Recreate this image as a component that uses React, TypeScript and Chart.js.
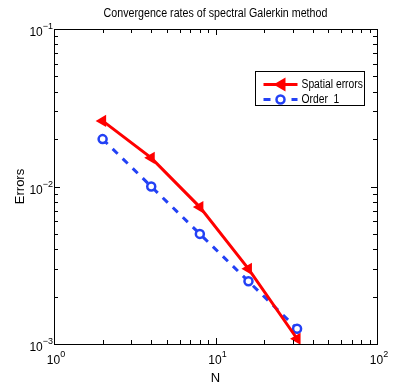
import React, { useEffect, useRef } from "react";
import { Chart, registerables } from "chart.js";

Chart.register(...registerables);

const N = [2, 4, 8, 16, 32];
const spatialErrors = [0.0261, 0.0152, 0.0074, 0.003, 0.00108];
const order1 = [0.02, 0.01, 0.005, 0.0025, 0.00125];
const seriesNames = ["Spatial errors", "Order  1"];
const xTickValues = [1, 10, 100];
const yTickValues = [0.001, 0.01, 0.1];
const titleText = "Convergence rates of spectral Galerkin method";
const xLabel = "N";
const yLabel = "Errors";

const RED = "rgb(255,0,0)";
const BLUE = "rgb(35,65,245)";
const FONT = "'Liberation Sans', Arial, sans-serif";

function narrowText(ctx: CanvasRenderingContext2D, text: string, x: number, y: number, sx: number, align: "left" | "center") {
  ctx.save();
  ctx.translate(x, y);
  ctx.scale(sx, 1);
  ctx.textAlign = align;
  ctx.textBaseline = "middle";
  ctx.fillText(text, 0, 0);
  ctx.restore();
}

function drawPow(ctx: CanvasRenderingContext2D, exp: string, x: number, y: number, align: "center" | "right") {
  ctx.font = `12px ${FONT}`;
  const baseW = ctx.measureText("10").width;
  ctx.font = `9px ${FONT}`;
  const expW = ctx.measureText(exp).width;
  const total = baseW + expW;
  const left = align === "center" ? x - total / 2 : x - total;
  ctx.textAlign = "left";
  ctx.textBaseline = "middle";
  ctx.font = `12px ${FONT}`;
  ctx.fillText("10", left, y);
  ctx.font = `9px ${FONT}`;
  ctx.fillText(exp, left + baseW, y - 6);
}

const decorPlugin = {
  id: "decor",
  afterDraw(chart: any) {
    const ctx = chart.ctx as CanvasRenderingContext2D;
    const ca = chart.chartArea;
    const xs = chart.scales.x;
    const ys = chart.scales.y;
    ctx.save();
    ctx.strokeStyle = "#000";
    ctx.lineWidth = 1;
    ctx.strokeRect(Math.round(ca.left) + 0.5, Math.round(ca.top) + 0.5, Math.round(ca.right - ca.left), Math.round(ca.bottom - ca.top));
    const tickSet = (min: number, max: number) => {
      const out: { v: number; major: boolean }[] = [];
      for (let d = Math.round(Math.log10(min)); d < Math.round(Math.log10(max)); d++) {
        for (let k = 1; k < 10; k++) out.push({ v: k * Math.pow(10, d), major: k === 1 });
      }
      out.push({ v: max, major: true });
      return out;
    };
    ctx.beginPath();
    for (const t of tickSet(xs.min, xs.max)) {
      const px = Math.round(xs.getPixelForValue(t.v)) + 0.5;
      const len = t.major ? 6 : 4;
      ctx.moveTo(px, ca.bottom);
      ctx.lineTo(px, ca.bottom - len);
      ctx.moveTo(px, ca.top);
      ctx.lineTo(px, ca.top + len);
    }
    for (const t of tickSet(ys.min, ys.max)) {
      const py = Math.round(ys.getPixelForValue(t.v)) + 0.5;
      const len = t.major ? 6 : 4;
      ctx.moveTo(ca.left, py);
      ctx.lineTo(ca.left + len, py);
      ctx.moveTo(ca.right, py);
      ctx.lineTo(ca.right - len, py);
    }
    ctx.stroke();

    ctx.fillStyle = "#000";
    for (const v of xTickValues) {
      drawPow(ctx, String(Math.round(Math.log10(v))), xs.getPixelForValue(v) + 2, ca.bottom + 17, "center");
    }
    for (const v of yTickValues) {
      drawPow(ctx, String(Math.round(Math.log10(v))).replace("-", "\u2212"), ca.left - 1, ys.getPixelForValue(v) + 4, "right");
    }
    ctx.font = `12px ${FONT}`;
    narrowText(ctx, titleText, (ca.left + ca.right) / 2, 14, 0.89, "center");
    ctx.font = `13px ${FONT}`;
    ctx.textAlign = "center";
    ctx.textBaseline = "middle";
    ctx.fillText(xLabel, (ca.left + ca.right) / 2, ca.bottom + 34);
    ctx.save();
    ctx.translate(20, (ca.top + ca.bottom) / 2);
    ctx.rotate(-Math.PI / 2);
    ctx.fillText(yLabel, 0, 0);
    ctx.restore();

    // legend
    const bx = Math.round(ca.right - 122) + 0.5;
    const by = Math.round(ca.top + 42) + 0.5;
    const bw = 109;
    const bh = 34;
    ctx.fillStyle = "#fff";
    ctx.fillRect(bx, by, bw, bh);
    ctx.strokeStyle = "#000";
    ctx.lineWidth = 1;
    ctx.strokeRect(bx, by, bw, bh);
    const rows = [by + 13, by + 28];
    chart.data.datasets.forEach((ds: any, i: number) => {
      const y = rows[i];
      const x0 = bx + 8;
      const x1 = bx + 42;
      const xm = (x0 + x1) / 2;
      ctx.save();
      ctx.strokeStyle = ds.borderColor;
      ctx.lineWidth = 3;
      ctx.setLineDash(ds.borderDash || []);
      ctx.beginPath();
      ctx.moveTo(x0, y);
      ctx.lineTo(x1, y);
      ctx.stroke();
      ctx.setLineDash([]);
      if (i === 0) {
        ctx.fillStyle = ds.borderColor;
        ctx.beginPath();
        ctx.moveTo(xm - 7, y);
        ctx.lineTo(xm + 5, y - 7);
        ctx.lineTo(xm + 5, y + 7);
        ctx.closePath();
        ctx.fill();
      } else {
        ctx.fillStyle = "#fff";
        ctx.lineWidth = 2.5;
        ctx.beginPath();
        ctx.arc(xm, y, 4, 0, Math.PI * 2);
        ctx.fill();
        ctx.stroke();
      }
      ctx.restore();
      ctx.fillStyle = "#000";
      ctx.font = `12px ${FONT}`;
      narrowText(ctx, ds.label, x1 + 4, y, 0.86, "left");
    });
    ctx.restore();
  },
};

export default function App() {
  const ref = useRef<HTMLCanvasElement | null>(null);
  useEffect(() => {
    document.body.style.margin = "0";
    const canvas = ref.current!;
    const chart = new Chart(canvas, {
      type: "line",
      data: {
        datasets: [
          {
            label: seriesNames[0],
            data: N.map((x, i) => ({ x, y: spatialErrors[i] })),
            borderColor: RED,
            backgroundColor: RED,
            borderWidth: 3,
            pointStyle: "triangle",
            pointRadius: 7,
            pointRotation: 270,
            pointBorderWidth: 0,
            pointBackgroundColor: RED,
            pointBorderColor: RED,
            tension: 0,
          },
          {
            label: seriesNames[1],
            data: N.map((x, i) => ({ x, y: order1[i] })),
            borderColor: BLUE,
            backgroundColor: "#fff",
            borderWidth: 3,
            borderDash: [7, 7],
            pointStyle: "circle",
            pointRadius: 4,
            pointBorderWidth: 2.5,
            pointBackgroundColor: "#fff",
            pointBorderColor: BLUE,
            tension: 0,
          },
        ],
      },
      options: {
        responsive: false,
        animation: false,
        events: [],
        layout: { padding: { left: 0, right: 38, top: 29, bottom: 0 } },
        plugins: {
          legend: { display: false },
          title: { display: false },
          tooltip: { enabled: false },
        },
        scales: {
          x: {
            type: "logarithmic",
            min: 1,
            max: 100,
            grid: { display: false },
            border: { display: false },
            ticks: { display: false },
            afterFit: (s: any) => {
              s.height = 44;
            },
          },
          y: {
            type: "logarithmic",
            min: 0.001,
            max: 0.1,
            grid: { display: false },
            border: { display: false },
            ticks: { display: false },
            afterFit: (s: any) => {
              s.width = 54;
            },
          },
        },
      },
      plugins: [decorPlugin],
    } as any);
    return () => chart.destroy();
  }, []);
  return (
    <div style={{ position: "absolute", left: 0, top: 0, width: 415, height: 388 }}>
      <canvas ref={ref} width={415} height={388} />
    </div>
  );
}
